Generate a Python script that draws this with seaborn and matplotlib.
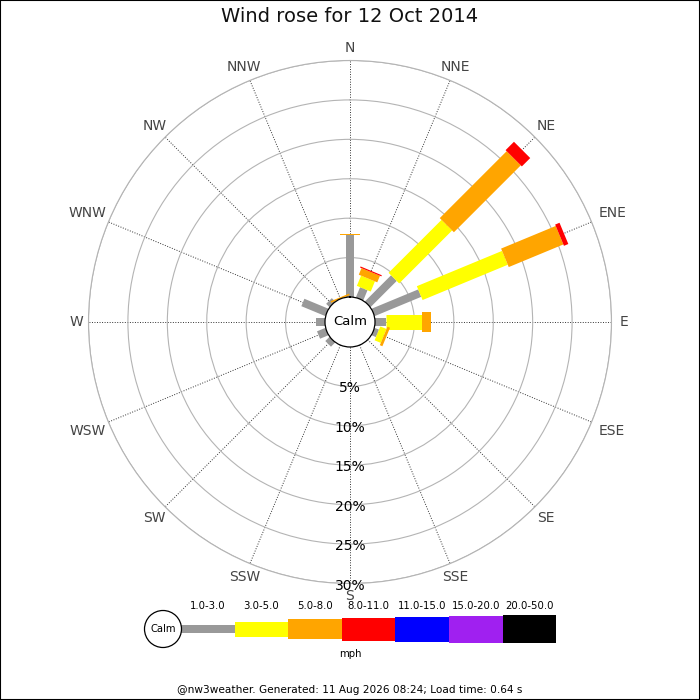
import numpy as np
import pandas as pd
import matplotlib
matplotlib.use("Agg")
import matplotlib.pyplot as plt
from matplotlib.patches import Circle, Rectangle
import seaborn as sns

# ---------------- data ----------------
directions = ['N', 'NNE', 'NE', 'ENE', 'E', 'ESE', 'SE', 'SSE',
              'S', 'SSW', 'SW', 'WSW', 'W', 'WNW', 'NW', 'NNW']
speed_classes = ['1.0-3.0', '3.0-5.0', '5.0-8.0', '8.0-11.0',
                 '11.0-15.0', '15.0-20.0', '20.0-50.0']
class_colors = ['#999999', '#ffff00', '#ffa500', '#ff0000',
                '#0000ff', '#a020f0', '#000000']
# percentage of time per direction for each speed class (mph)
pct_1_3 = [7.9, 1.4, 4.7, 6.4, 1.45, 0.6, 0, 0, 0, 0, 0.75, 1.15, 1.1, 3.3, 0.6, 0]
pct_3_5 = [0, 1.4, 9.5, 11.7, 4.45, 0.85, 0, 0, 0, 0, 0, 0, 0, 0, 0, 0]
pct_5_8 = [0.15, 0.9, 12.0, 7.5, 1.25, 0.35, 0, 0, 0, 0, 0, 0, 0, 0, 0, 0.2]
pct_8_11 = [0, 0.15, 1.5, 0.6, 0, 0, 0, 0, 0, 0, 0, 0, 0, 0, 0, 0]
pct_11_15 = [0] * 16
pct_15_20 = [0] * 16
pct_20_50 = [0] * 16
pct_ticks = [5, 10, 15, 20, 25, 30]

title = 'Wind rose for 12 Oct 2014'
footer = '@nw3weather. Generated: 11 Aug 2026 08:24; Load time: 0.64 s'

# ---------------- styling ----------------
sns.set_theme(style='white')
plt.rcParams['font.family'] = ['DejaVu Sans']
bar_px = [8, 15, 20, 23, 25, 27, 28]          # thickness of each class (pixels)
PX2PT = 0.72

all_pcts = [pct_1_3, pct_3_5, pct_5_8, pct_8_11, pct_11_15, pct_15_20, pct_20_50]
thetas = np.deg2rad(np.arange(len(directions)) * 22.5)

rows = []
seg = 0
for i, d in enumerate(directions):
    base = 0.0
    for k, cls in enumerate(speed_classes):
        v = all_pcts[k][i]
        if v > 0:
            rows.append(dict(theta=thetas[i], r=base, cls=cls, seg=seg))
            rows.append(dict(theta=thetas[i], r=base + v, cls=cls, seg=seg))
            seg += 1
        base += v
df = pd.DataFrame(rows)

fig = plt.figure(figsize=(7, 7), dpi=100)
fig.patch.set_facecolor('white')

R_PX = 261.5
CALM_PX = 25.0
cx, cy = 350.0, 322.0
ax = fig.add_axes([(cx - R_PX) / 700, 1 - (cy + R_PX) / 700, 2 * R_PX / 700, 2 * R_PX / 700],
                  projection='polar')
ax.set_theta_zero_location('N')
ax.set_theta_direction(-1)
ax.set_ylim(0, 30)
ax.set_rorigin(-30 * (CALM_PX / R_PX) / (1 - CALM_PX / R_PX))
ax.set_facecolor('white')
ax.set_axisbelow(True)

ax.set_xticks(thetas)
ax.set_xticklabels([])
ax.set_yticks(pct_ticks)
ax.set_yticklabels([])
ax.tick_params(length=0)
ax.xaxis.grid(True, color='#333333', linestyle=(0, (1, 1.6)), linewidth=0.7)
ax.yaxis.grid(True, color='#b4b4b4', linestyle='-', linewidth=0.8)
ax.spines['polar'].set_color('#b4b4b4')
ax.spines['polar'].set_linewidth(0.8)
ax.spines['inner'].set_color('black')
ax.spines['inner'].set_linewidth(0.9)

sns.lineplot(data=df, x='theta', y='r', hue='cls', size='cls', units='seg',
             estimator=None, sort=False, legend=False, ax=ax,
             hue_order=speed_classes, size_order=speed_classes,
             palette=dict(zip(speed_classes, class_colors)),
             sizes=dict(zip(speed_classes, [p * PX2PT for p in bar_px])),
             solid_capstyle='butt')
ax.set_xlabel('')
ax.set_ylabel('')
ax.set_ylim(0, 30)

# direction labels
px_per_pct = (R_PX - CALM_PX) / 30
for th, lab in zip(thetas, directions):
    hw = 5.6 * len(lab)
    hh = 5.5
    off = 268 + np.hypot(hw * np.sin(th), hh * np.cos(th))
    r = (off - CALM_PX) / px_per_pct
    ax.text(th, r, lab, ha='center', va='center', fontsize=10, color='#444444',
            clip_on=False)

# percentage labels along the south spoke
for p in pct_ticks:
    ax.text(np.pi, p + 2 / px_per_pct, f'{p}%', ha='center', va='center', fontsize=10,
            color='black', clip_on=False, zorder=5)

ax.text(0.5, 0.5, 'Calm', transform=ax.transAxes, ha='center', va='center',
        fontsize=9.5, color='black')

fig.text(0.5, 1 - 17 / 700, title, ha='center', va='center', fontsize=14, color='#111111')

# ---------------- legend ----------------
lx0, lx1, ly0, ly1 = 130, 570, 595, 665
lax = fig.add_axes([lx0 / 700, 1 - ly1 / 700, (lx1 - lx0) / 700, (ly1 - ly0) / 700])
lax.set_xlim(lx0, lx1)
lax.set_ylim(ly1, ly0)
lax.axis('off')
leg_cy = 629
seg_w = 53.6
lefts = [181 + k * seg_w for k in range(len(speed_classes))]
lax.bar(lefts, bar_px, bottom=[leg_cy - h / 2 for h in bar_px], width=seg_w,
        align='edge', color=class_colors, linewidth=0)
for x, lab in zip(lefts, speed_classes):
    lax.text(x + seg_w / 2, 606, lab, ha='center', va='center', fontsize=7.3, color='black')
lax.add_patch(Circle((163, leg_cy), 18.5, facecolor='white', edgecolor='black', linewidth=0.9))
lax.text(163, leg_cy, 'Calm', ha='center', va='center', fontsize=7.2, color='black')
lax.text(350, 654, 'mph', ha='center', va='center', fontsize=7.3, color='black')

fig.text(0.5, 1 - 690 / 700, footer, ha='center', va='center', fontsize=7.6, color='black')

fig.add_artist(Rectangle((0, 0), 1, 1, transform=fig.transFigure, fill=False,
                         edgecolor='black', linewidth=1.5))

fig.savefig('out.png', dpi=100, facecolor='white')
